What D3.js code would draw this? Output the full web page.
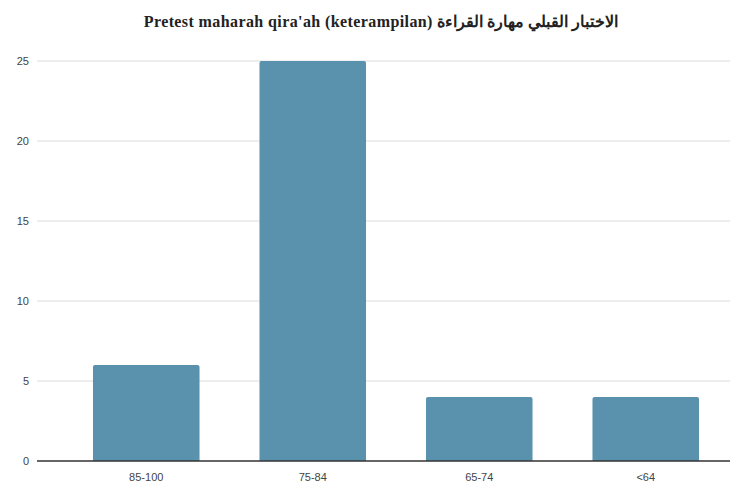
<!DOCTYPE html>
<html>
<head>
<meta charset="utf-8">
<script src="https://cdn.jsdelivr.net/npm/d3@7"></script>
<style>
  body { margin: 0; background: #fff; }
  svg { display: block; }
</style>
</head>
<body>
<svg width="749" height="493"></svg>
<script>
// Chart data
const categories = ["85-100", "75-84", "65-74", "<64"];
const counts = [6, 25, 4, 4];
const yTicks = [0, 5, 10, 15, 20, 25];
const title = "Pretest maharah qira'ah (keterampilan) الاختبار القبلي مهارة القراءة";

const svg = d3.select("svg");
const gridLeft = 37, gridRight = 730;

const x = d3.scaleBand()
    .domain(categories)
    .range([63, 729])
    .paddingInner(0.36)
    .paddingOuter(0.18);

const y = d3.scaleLinear()
    .domain([0, 25])
    .range([461, 61]);

// Title
svg.append("text")
    .attr("x", 381)
    .attr("y", 27)
    .attr("text-anchor", "middle")
    .style("font-family", "Liberation Serif, serif")
    .style("font-weight", "bold")
    .style("font-size", "16px")
    .style("letter-spacing", "0.4px")
    .style("fill", "#222")
    .text(title);

// Gridlines
svg.append("g")
    .selectAll("line")
    .data(yTicks.filter(d => d > 0))
    .join("line")
    .attr("x1", gridLeft)
    .attr("x2", gridRight)
    .attr("y1", d => y(d))
    .attr("y2", d => y(d))
    .attr("stroke", "#dcdcdc")
    .attr("stroke-width", 1);

// Y tick labels
svg.append("g")
    .selectAll("text")
    .data(yTicks)
    .join("text")
    .attr("x", 29)
    .attr("y", d => y(d) + 4)
    .attr("text-anchor", "end")
    .style("font-family", "Liberation Sans, Arial, sans-serif")
    .style("font-size", "11px")
    .style("fill", "#444")
    .text(d => d);

// Bars with slightly rounded tops
const r = 2;
svg.append("g")
    .selectAll("path")
    .data(categories.map((c, i) => ({ cat: c, val: counts[i] })))
    .join("path")
    .attr("fill", "#5a91ad")
    .attr("d", d => {
        const x0 = x(d.cat), w = x.bandwidth();
        const yt = y(d.val), yb = y(0);
        return `M${x0},${yb}V${yt + r}Q${x0},${yt} ${x0 + r},${yt}H${x0 + w - r}Q${x0 + w},${yt} ${x0 + w},${yt + r}V${yb}Z`;
    });

// Baseline
svg.append("line")
    .attr("x1", gridLeft)
    .attr("x2", gridRight)
    .attr("y1", y(0))
    .attr("y2", y(0))
    .attr("stroke", "#333")
    .attr("stroke-width", 1.5);

// X axis labels
svg.append("g")
    .selectAll("text")
    .data(categories)
    .join("text")
    .attr("x", d => x(d) + x.bandwidth() / 2)
    .attr("y", 481)
    .attr("text-anchor", "middle")
    .style("font-family", "Liberation Sans, Arial, sans-serif")
    .style("font-size", "11px")
    .style("fill", "#444")
    .text(d => d);
</script>
</body>
</html>
